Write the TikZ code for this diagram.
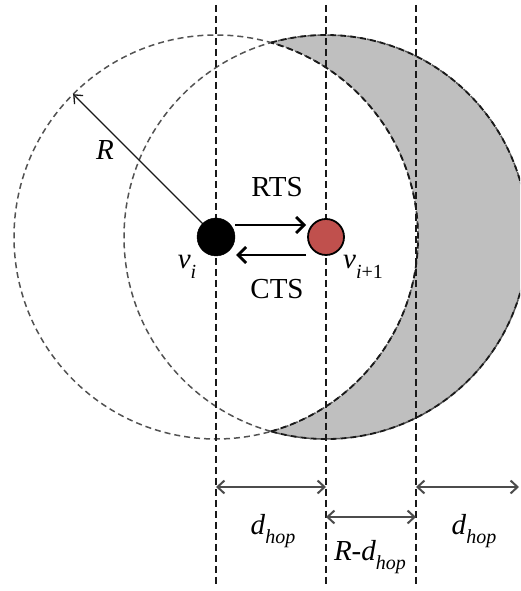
\documentclass[tikz,border=0pt]{standalone}
\usepackage{fontspec}
\setmainfont{Liberation Serif}
\usetikzlibrary{arrows.meta,calc}
\definecolor{nodered}{RGB}{192,80,77}
\definecolor{shadegray}{RGB}{191,191,191}
\newcommand\lowsub[1]{\raisebox{-0.33em}{\fontsize{20}{22}\selectfont #1}}
\tikzset{
  lbl/.style={inner sep=0pt, font=\fontsize{29}{33}\selectfont},
  vline/.style={dash pattern=on 7pt off 4pt, line width=1.4pt, black!90},
  lightdash/.style={dash pattern=on 6pt off 4pt, line width=1.5pt, black!68},
  darkdash/.style={dash pattern=on 6pt off 4pt, line width=1.8pt, black!90},
  dim/.style={line width=2pt, black!70, {Straight Barb[length=7pt,width=13pt]}-{Straight Barb[length=7pt,width=13pt]}},
  msg/.style={line width=2.8pt, black, -{Straight Barb[length=8pt,width=16pt]}},
  radarrow/.style={line width=1.3pt, black!90, -{Straight Barb[length=7pt,width=12pt]}},
}
\begin{document}
\begin{tikzpicture}[x=1pt,y=1pt]
\useasboundingbox (0,0) rectangle (520,591);
\clip (0,0) rectangle (520,591);
\coordinate (a) at (216,354);
\coordinate (b) at (326,354);
% shaded crescent
\begin{scope}
  \clip (b) circle[radius=202pt];
  \fill[shadegray, even odd rule] (b) circle[radius=202pt] (a) circle[radius=202pt];
\end{scope}
% circles
\draw[lightdash] (a) circle[radius=202pt];
\draw[lightdash] (b) circle[radius=202pt];
\draw[darkdash] (b) ++(-105.8:202pt) arc[start angle=-105.8, end angle=105.8, radius=202pt];
\draw[darkdash] (a) ++(-74.2:202pt) arc[start angle=-74.2, end angle=74.2, radius=202pt];
% vertical dashed lines
\coordinate (t1) at (216,586); \coordinate (u1) at (216,6);
\coordinate (t2) at (326,586); \coordinate (u2) at (326,6);
\coordinate (t3) at (416,586); \coordinate (u3) at (416,6);
\draw[vline] (t1) -- (u1);
\draw[vline] (t2) -- (u2);
\draw[vline] (t3) -- (u3);
% radius arrow
\coordinate (rtip) at ($(a)+(135:202pt)$);
\draw[radarrow] (a) -- (rtip);
\node[lbl] (rlab) at (105,441) {\textit{R}};
% nodes
\node[circle, fill=black, draw=black, minimum size=38pt, inner sep=0pt] (vi) at (a) {};
\node[circle, fill=nodered, draw=black, line width=1.8pt, minimum size=36pt, inner sep=0pt] (vj) at (b) {};
% messages
\draw[msg] ($(vi.east)+(0,12)$) -- ($(vj.west)+(-1,12)$);
\draw[msg] ($(vj.west)+(-1,-18)$) -- ($(vi.east)+(1,-18)$);
\node[lbl] (rts) at (277,404) {RTS};
\node[lbl] (cts) at (277,302) {CTS};
\node[lbl] (vil) at (187,324) {\textit{v}\lowsub{\textit{i}}};
\node[lbl] (vjl) at (363,324) {\textit{v}\lowsub{\textit{i}+1}};
% dimension arrows
\coordinate (l1) at (216,104); \coordinate (l2) at (326,104);
\coordinate (l3) at (416,104); \coordinate (l4) at (519,104);
\coordinate (m2) at (326,74); \coordinate (m3) at (416,74);
\draw[dim] (l1) -- (l2);
\draw[dim] (m2) -- (m3);
\draw[dim] (l3) -- (l4);
\node[lbl] (d1) at (273,60) {\textit{d}\lowsub{\textit{hop}}};
\node[lbl] (d2) at (370,34) {\textit{R}-\textit{d}\lowsub{\textit{hop}}};
\node[lbl] (d3) at (474,60) {\textit{d}\lowsub{\textit{hop}}};
\end{tikzpicture}
\end{document}
